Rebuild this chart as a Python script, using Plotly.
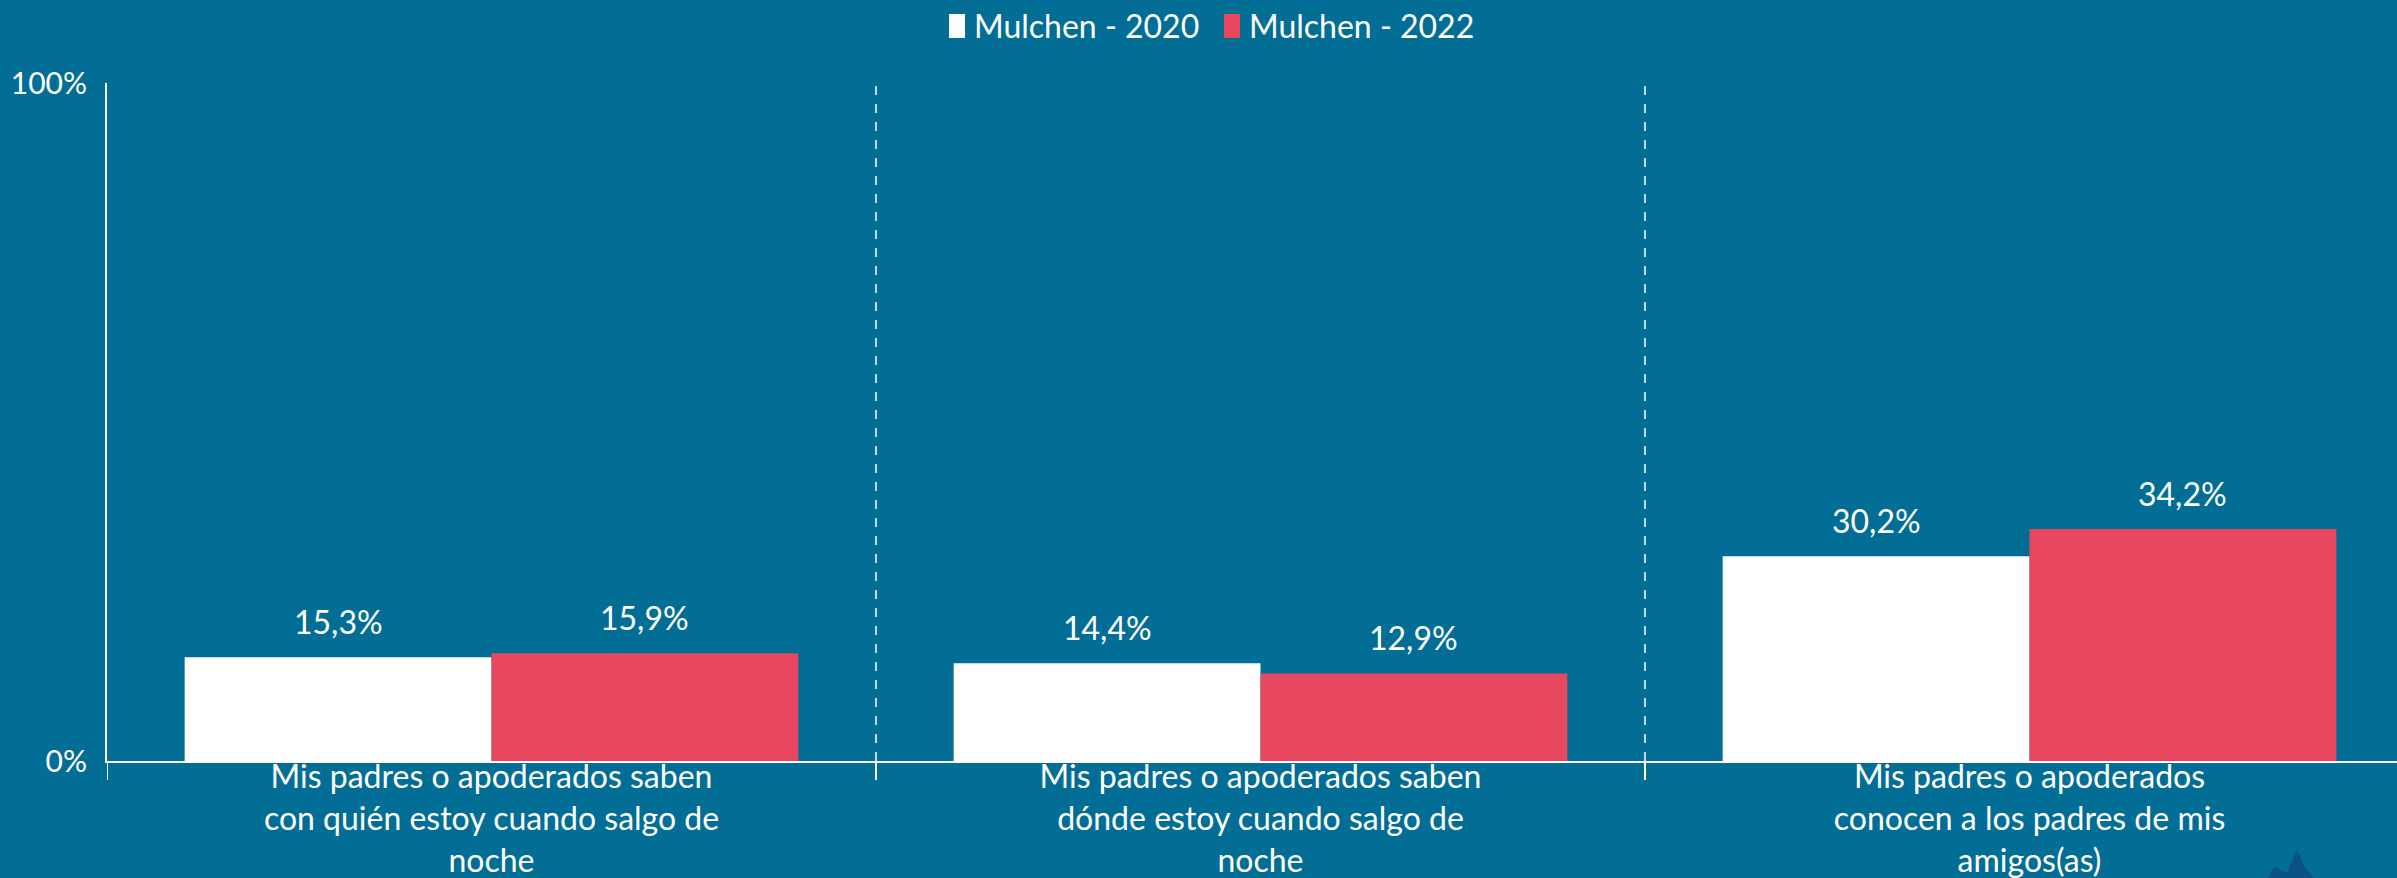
import plotly.graph_objects as go

categories = [
    "Mis padres o apoderados saben<br>con quién estoy cuando salgo de<br>noche",
    "Mis padres o apoderados saben<br>dónde estoy cuando salgo de<br>noche",
    "Mis padres o apoderados<br>conocen a los padres de mis<br>amigos(as)",
]
series_names = ["Mulchen - 2020", "Mulchen - 2022"]
values_2020 = [15.3, 14.4, 30.2]
values_2022 = [15.9, 12.9, 34.2]
y_tickvals = [0, 100]
y_ticktext = ["0%", "100%"]

BG = "#026E96"
RED = "#E8485F"
WHITE = "#FFFFFF"
FONT = "Lato"
FS = 32

BARGAP = 0.202
W, H = 2397, 878
ML, MT, MB = 107, 83, 117
plot_w = W - ML
plot_h = H - MT - MB

fig = go.Figure()
fig.add_trace(go.Bar(x=categories, y=values_2020, name=series_names[0],
                     marker=dict(color=WHITE, line=dict(width=0))))
fig.add_trace(go.Bar(x=categories, y=values_2022, name=series_names[1],
                     marker=dict(color=RED, line=dict(width=0))))

half = (1 - BARGAP) / 2
annotations = []
for series, vals in ((0, values_2020), (1, values_2022)):
    off = -half / 2 if series == 0 else half / 2
    for i, v in enumerate(vals):
        annotations.append(dict(
            x=i + off, y=v, xref="x", yref="y",
            text=f"{v:.1f}%".replace(".", ","),
            showarrow=False, yanchor="middle", yshift=36,
            font=dict(family=FONT, size=FS, color=WHITE)))

def px_x(p):
    return (p - ML) / plot_w

def px_y(p):
    return (H - MB - p) / plot_h

shapes = []
tick_len = 19 / plot_h
for b in [0.5, 1.5]:
    shapes.append(dict(type="line", xref="x", yref="paper", x0=b, x1=b, y0=0, y1=1,
                       line=dict(color="rgba(255,255,255,0.75)", width=2, dash="dash"),
                       layer="below"))
for b in [-0.5, 0.5, 1.5]:
    shapes.append(dict(type="line", xref="x", yref="paper", x0=b, x1=b, y0=0, y1=-tick_len,
                       line=dict(color=WHITE, width=2)))

# manual legend (tall swatches like the reference)
legend_items = [(series_names[0], WHITE, 949), (series_names[1], RED, 1224)]
for name, col, lx in legend_items:
    shapes.append(dict(type="rect", xref="paper", yref="paper",
                       x0=px_x(lx), x1=px_x(lx + 16), y0=px_y(38), y1=px_y(14),
                       fillcolor=col, line=dict(width=0)))
    annotations.append(dict(x=px_x(lx + 23), y=px_y(26), xref="paper", yref="paper",
                            xanchor="left", yanchor="middle", showarrow=False,
                            text=name, font=dict(family=FONT, size=32, color=WHITE)))

# decorative logo fragment peeking in at the bottom-right corner
logo_pts = [(2268, 878), (2274, 867), (2287, 873), (2297, 849), (2304, 866), (2314, 878)]
logo_path = "M " + " L ".join(f"{px_x(a):.5f},{px_y(b):.5f}" for a, b in logo_pts) + " Z"
shapes.append(dict(type="path", xref="paper", yref="paper", path=logo_path,
                   fillcolor="#0B5289", line=dict(width=0)))

x_max = -0.5 + plot_w / 769.0

fig.update_layout(
    width=W, height=H,
    paper_bgcolor=BG, plot_bgcolor=BG,
    margin=dict(l=ML, r=0, t=MT, b=MB, pad=0, autoexpand=False),
    barmode="group", bargap=BARGAP, bargroupgap=0,
    font=dict(family=FONT, size=FS, color=WHITE),
    showlegend=False,
    xaxis=dict(range=[-0.5, x_max], showline=True, linecolor=WHITE, linewidth=2,
               ticks="", showgrid=False, zeroline=False, automargin=False,
               ticklabelstandoff=-13,
               tickfont=dict(family=FONT, size=32, color=WHITE), fixedrange=True),
    yaxis=dict(range=[0, 100], showline=True, linecolor=WHITE, linewidth=2,
               tickvals=y_tickvals, ticktext=y_ticktext, ticks="", showgrid=False,
               zeroline=False, ticklabelstandoff=12, automargin=False,
               tickfont=dict(family=FONT, size=30, color=WHITE)),
    annotations=annotations,
    shapes=shapes,
)

fig.write_html("out.html", config={"displayModeBar": False},
               post_script="document.body.style.margin='0';document.body.style.overflow='hidden';")
